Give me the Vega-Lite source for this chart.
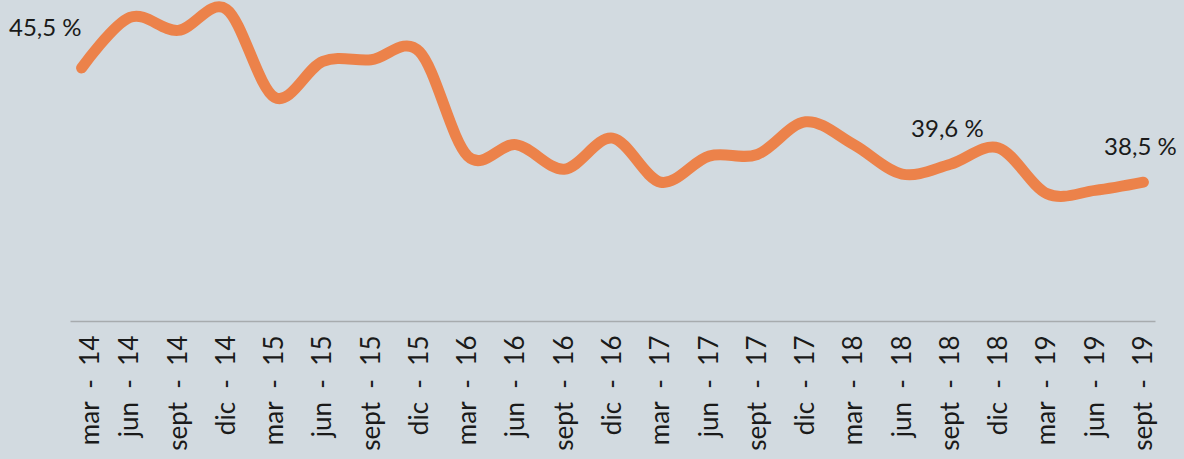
{
  "$schema": "https://vega.github.io/schema/vega-lite/v6.json",
  "autosize": "none",
  "width": 1085,
  "height": 320,
  "padding": {"left": 70, "top": 1, "right": 29, "bottom": 138},
  "background": "#d2dae0",
  "config": {"view": {"stroke": null}},
  "datasets": {
    "serie": [
      {"periodo": "mar - 14", "valor": 45.5},
      {"periodo": "jun - 14", "valor": 48.6},
      {"periodo": "sept - 14", "valor": 47.8},
      {"periodo": "dic - 14", "valor": 49.1},
      {"periodo": "mar - 15", "valor": 43.7},
      {"periodo": "jun - 15", "valor": 45.9},
      {"periodo": "sept - 15", "valor": 46.0},
      {"periodo": "dic - 15", "valor": 46.5},
      {"periodo": "mar - 16", "valor": 40.1},
      {"periodo": "jun - 16", "valor": 40.8},
      {"periodo": "sept - 16", "valor": 39.3},
      {"periodo": "dic - 16", "valor": 41.2},
      {"periodo": "mar - 17", "valor": 38.5},
      {"periodo": "jun - 17", "valor": 40.1},
      {"periodo": "sept - 17", "valor": 40.2},
      {"periodo": "dic - 17", "valor": 42.2},
      {"periodo": "mar - 18", "valor": 40.8},
      {"periodo": "jun - 18", "valor": 39.0},
      {"periodo": "sept - 18", "valor": 39.6},
      {"periodo": "dic - 18", "valor": 40.6},
      {"periodo": "mar - 19", "valor": 37.8},
      {"periodo": "jun - 19", "valor": 38.0},
      {"periodo": "sept - 19", "valor": 38.5}
    ],
    "notas": [
      {"periodo": "mar - 14", "valor": 45.5, "etiqueta": "45,5 %", "pos": "inicio"},
      {"periodo": "sept - 18", "valor": 39.6, "etiqueta": "39,6 %", "pos": "medio"},
      {"periodo": "sept - 19", "valor": 38.5, "etiqueta": "38,5 %", "pos": "medio"}
    ]
  },
  "encoding": {
    "x": {
      "field": "periodo",
      "type": "ordinal",
      "sort": null,
      "scale": {"type": "point", "padding": 0.24},
      "axis": {
        "title": null,
        "labelAngle": -90,
        "labelFont": "Lato",
        "labelFontSize": 26,
        "labelFontWeight": "normal",
        "labelColor": "#1a1a1a",
        "labelPadding": 14,
        "labelExpr": "replace(datum.label, ' - ', '\u00a0\u00a0-\u00a0\u00a0')",
        "labelOffset": {"condition": {"test": "datum.value === 'mar - 14'", "value": 9}, "value": 0},
        "ticks": false,
        "domainColor": "#a7abae",
        "domainWidth": 1.6,
        "grid": false
      }
    },
    "y": {
      "field": "valor",
      "type": "quantitative",
      "scale": {"domain": [30, 49.6], "zero": false, "nice": false},
      "axis": null
    }
  },
  "layer": [
    {
      "data": {"name": "serie"},
      "mark": {"type": "line", "interpolate": "cardinal", "color": "#ec824a", "strokeWidth": 11, "strokeCap": "round", "strokeJoin": "round"}
    },
    {
      "data": {"name": "notas"},
      "transform": [{"filter": "datum.pos === 'inicio'"}],
      "mark": {"type": "text", "align": "right", "baseline": "alphabetic", "dx": 0, "dy": -32, "font": "Lato", "fontSize": 24, "color": "#1a1a1a"},
      "encoding": {"text": {"field": "etiqueta"}}
    },
    {
      "data": {"name": "notas"},
      "transform": [{"filter": "datum.pos === 'medio'"}],
      "mark": {"type": "text", "align": "center", "baseline": "alphabetic", "dx": -3, "dy": -27, "font": "Lato", "fontSize": 24, "color": "#1a1a1a"},
      "encoding": {"text": {"field": "etiqueta"}}
    }
  ]
}
